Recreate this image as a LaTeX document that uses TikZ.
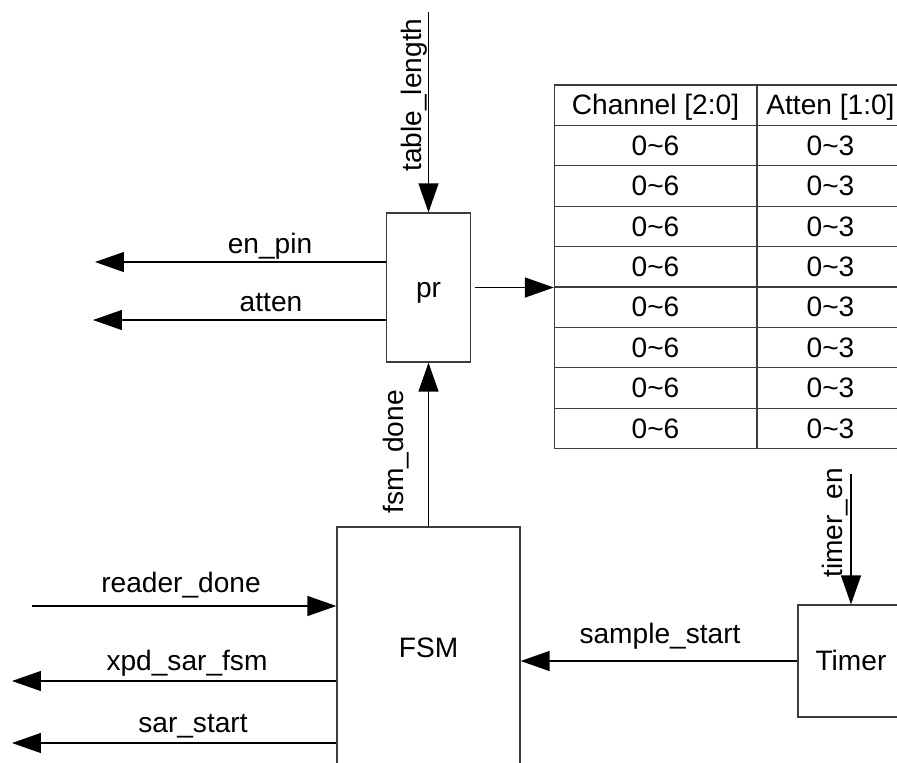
\documentclass[tikz,border=0pt]{standalone}
\usepackage{fontspec}
\setmainfont{Liberation Sans}
\usepackage{tikz}
\usetikzlibrary{arrows.meta,positioning,calc}
\definecolor{rline}{HTML}{3C3C3C}
\tikzset{
 block/.style={draw=rline,line width=0.75pt,align=center,inner sep=0pt,
   font=\fontsize{16pt}{19pt}\selectfont,text height=14.5pt,text depth=3.4pt},
 cell/.style={block,minimum height=0.808cm},
 sig/.style={-{Triangle[length=0.58cm,width=0.4cm]},line width=0.75pt,draw=black},
 lbl/.style={anchor=base,inner sep=0pt,font=\fontsize{16pt}{19pt}\selectfont}
}
\begin{document}
\begin{tikzpicture}[x=0.02cm,y=-0.02cm]
 \useasboundingbox (0,0) rectangle (897,762);
 % blocks
 \node[block,minimum width=1.68cm,minimum height=2.98cm] (pr) at (428.5,287.5) {pr};
 \node[block,minimum width=3.66cm,minimum height=4.84cm] (fsm) at (428.5,648) {FSM};
 \node[block,minimum width=2.12cm,minimum height=2.24cm] (timer) at (851,661) {Timer};
 % table
 \node[cell,minimum width=4.04cm] (chhead) at (655.5,105.2) {Channel [2:0]};
 \node[cell,minimum width=2.94cm] (athead) at (830.5,105.2) {Atten [1:0]};
 \foreach \i in {1,...,8}{
   \node[cell,minimum width=4.04cm] (ch\i) at (655.5,{105.2+40.4*\i}) {0\textasciitilde 6};
   \node[cell,minimum width=2.94cm] (at\i) at (830.5,{105.2+40.4*\i}) {0\textasciitilde 3};
 }
 % free ends
 \coordinate (tablelen) at (428.5,12);
 \coordinate (enpinout) at (95,262);
 \coordinate (attenout) at (93,320);
 \coordinate (readerin) at (32,606);
 \coordinate (xpdout) at (12,681);
 \coordinate (sarout) at (12,743);
 \coordinate (timeren) at (851,474);
 % connectors
 \draw[sig] (tablelen)--(pr.north);
 \draw[sig] (pr.west |- enpinout)--(enpinout);
 \draw[sig] (pr.west |- attenout)--(attenout);
 \draw[sig] ([xshift=2pt]pr.east)--(pr.east -| ch1.west);
 \draw[sig] (fsm.north)--(pr.south);
 \draw[sig] (readerin)--(readerin -| fsm.west);
 \draw[sig] (xpdout -| fsm.west)--(xpdout);
 \draw[sig] (sarout -| fsm.west)--(sarout);
 \draw[sig] (timer.west)--(timer.west -| fsm.east);
 \draw[sig] (timeren)--(timer.north);
 % labels
 \node[lbl,rotate=90] (tablelenlbl) at (421,95) {table\_length};
 \node[lbl] (enpinlbl) at (270,253) {en\_pin};
 \node[lbl] (attenlbl) at (271,311) {atten};
 \node[lbl,rotate=90] (fsmdonelbl) at (403,452) {fsm\_done};
 \node[lbl] (readerlbl) at (181,592) {reader\_done};
 \node[lbl] (xpdlbl) at (187,670) {xpd\_sar\_fsm};
 \node[lbl] (sarlbl) at (193,732) {sar\_start};
 \node[lbl] (samplelbl) at (660,643) {sample\_start};
 \node[lbl,rotate=90] (timerenlbl) at (842,523) {timer\_en};
\end{tikzpicture}
\end{document}
